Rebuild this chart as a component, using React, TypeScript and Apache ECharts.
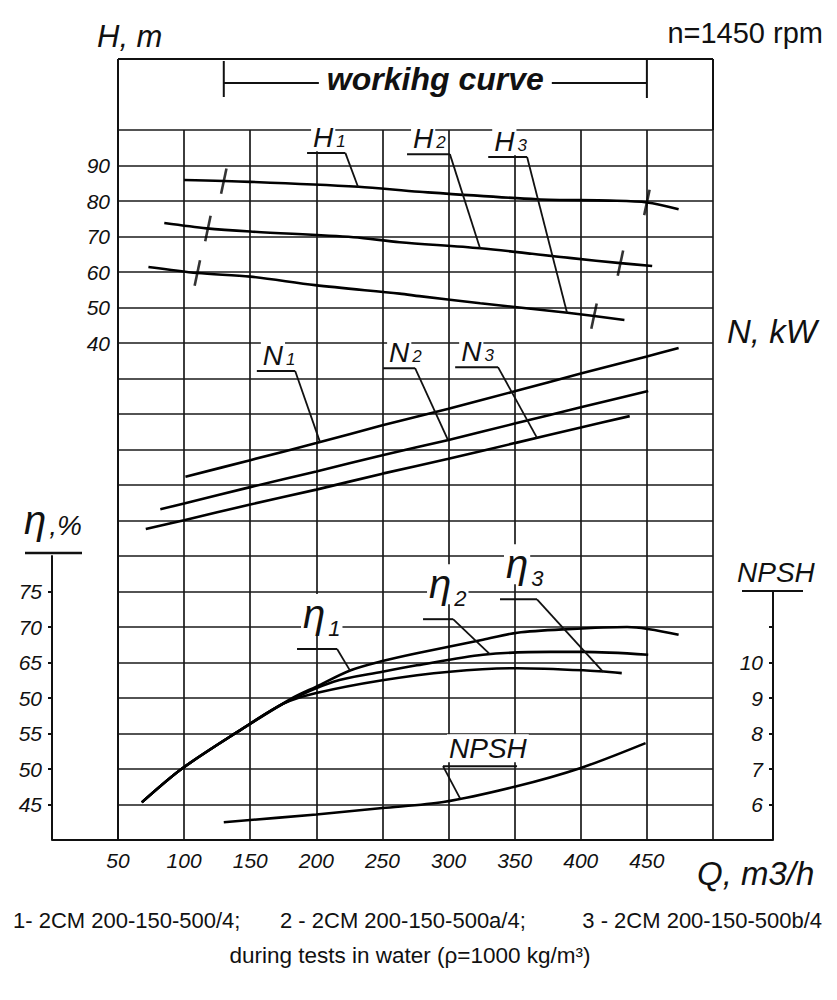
import React, { useEffect, useRef } from "react";
import * as echarts from "echarts";

const FONT = '"Liberation Sans", Arial, Helvetica, sans-serif';

// ---- axis ticks / labels ----
const Q_TICKS = [50, 100, 150, 200, 250, 300, 350, 400, 450];
const H_TICKS = [40, 50, 60, 70, 80, 90];
const ETA_TICKS = [45, 50, 55, 60, 65, 70, 75];
const ETA_TICK_LABELS = ["45", "50", "55", "50", "65", "70", "75"];
const NPSH_TICKS = [6, 7, 8, 9, 10, 11];
const NPSH_LABEL_TICKS = [6, 7, 8, 9, 10];

// ---- head curves H (m) vs Q (m3/h) ----
const H1 = [[100, 85.9], [150, 85.4], [232, 84.0], [278, 82.6], [367, 80.5], [422, 80.1], [450, 79.6], [474, 77.7]];
const H2 = [[85, 73.8], [117, 72.3], [150, 71.4], [228, 69.8], [263, 68.4], [324, 66.7], [393, 63.9], [430, 62.5], [454, 61.7]];
const H3 = [[73, 61.4], [110, 59.7], [150, 58.7], [199, 56.3], [263, 53.9], [278, 53.2], [324, 51.2], [390, 48.5], [433, 46.5]];

// ---- power curves N (kW, unlabelled scale) ----
const N1 = [[101, 102.3], [150, 107.0], [200, 111.8], [250, 116.8], [300, 121.5], [350, 126.4], [400, 131.4], [450, 136.2], [474, 138.6]];
const N2 = [[82, 93.2], [100, 94.8], [150, 99.4], [200, 103.8], [250, 108.4], [300, 112.7], [350, 117.3], [400, 121.9], [451, 126.5]];
const N3 = [[71, 87.6], [100, 90.1], [150, 94.5], [200, 98.7], [250, 103.2], [300, 107.4], [350, 111.8], [400, 116.2], [437, 119.4]];

// ---- efficiency curves (%) ----
const ETA1 = [[68, 45.3], [98, 50], [141, 55.3], [182, 60], [200, 61.6], [226, 63.9], [250, 65.2], [276, 66.3], [326, 68.2], [352, 69.2], [390, 69.7], [435, 70.0], [474, 68.9]];
const ETA2 = [[68, 45.3], [98, 50], [141, 55.3], [175, 59.2], [213, 62.3], [250, 63.7], [276, 64.6], [326, 66.1], [377, 66.5], [402, 66.5], [451, 66.1]];
const ETA3 = [[68, 45.3], [98, 50], [141, 55.3], [175, 59.2], [200, 60.7], [250, 62.5], [301, 63.7], [352, 64.2], [402, 63.9], [431, 63.5]];

// ---- NPSH (m) ----
const NPSH = [[130, 5.5], [200, 5.72], [250, 5.9], [296, 6.07], [350, 6.5], [400, 7.03], [449, 7.73]];

// ---- working range limits (Q) ----
const WORK_H1 = [130, 450];
const WORK_H2 = [118, 430];
const WORK_H3 = [110, 410];
const WORKING_RANGE = [130, 450];

// ---- curve labels: underline span (Q), level (curve axis units), touch point Q ----
const CURVE_LABELS = [
  { main: "H", sub: "1", curve: "H1", under: [193, 222], level: 93.5, touch: 231.5 },
  { main: "H", sub: "2", curve: "H2", under: [268.6, 301], level: 93.2, touch: 323.8 },
  { main: "H", sub: "3", curve: "H3", under: [330, 359.4], level: 92.4, touch: 389.6 },
  { main: "N", sub: "1", curve: "N1", under: [155, 184], level: 132.1, touch: 202.8 },
  { main: "N", sub: "2", curve: "N2", under: [250.5, 274.7], level: 132.9, touch: 299.6 },
  { main: "N", sub: "3", curve: "N3", under: [305, 337.4], level: 133.2, touch: 366.9 },
  { main: "η", sub: "1", curve: "ETA1", under: [185.4, 215.7], level: 66.9, touch: 225.5 },
  { main: "η", sub: "2", curve: "ETA2", under: [280.7, 303.4], level: 71.1, touch: 331.4 },
  { main: "η", sub: "3", curve: "ETA3", under: [338.9, 366.9], level: 73.9, touch: 416.9 },
  { main: "NPSH", sub: "", curve: "NPSH", under: [295.8, 351.8], level: 7.08, touch: 308.7, fromLeft: true },
];

const FOOT_1 = ["1- 2CM 200-150-500/4;", "2 - 2CM 200-150-500a/4;", "3 - 2CM 200-150-500b/4"];
const FOOT_2 = "during tests in water (ρ=1000 kg/m³)";

function interp(d: number[][], q: number): number {
  for (let i = 0; i < d.length - 1; i++) {
    const [a, va] = d[i];
    const [b, vb] = d[i + 1];
    if (q >= a && q <= b) return va + ((vb - va) * (q - a)) / (b - a);
  }
  return q < d[0][0] ? d[0][1] : d[d.length - 1][1];
}

let ctx: CanvasRenderingContext2D | null = null;
function measure(s: string, size: number, italic = true, bold = false): number {
  if (!ctx) ctx = document.createElement("canvas").getContext("2d");
  if (!ctx) return s.length * size * 0.55;
  ctx.font = `${italic ? "italic " : ""}${bold ? "bold " : ""}${size}px "Liberation Sans", Arial, sans-serif`;
  return ctx.measureText(s).width;
}

export default function App() {
  const ref = useRef<HTMLDivElement>(null);
  useEffect(() => {
    if (!ref.current) return;
    const chart = echarts.init(ref.current, null, { renderer: "svg" });
    const GL = 118;
    const GR = 124;
    const GB = 160;
    const RX = 837 - GR;
    const INK = "#111";
    const gridLine = { color: "#1a1a1a", width: 1.7 };
    const lbl = { fontFamily: FONT, fontStyle: "italic", color: INK, fontSize: 21 };

    const curves: Record<string, { data: number[][]; xi: number; yi: number }> = {
      H1: { data: H1, xi: 0, yi: 0 },
      H2: { data: H2, xi: 0, yi: 0 },
      H3: { data: H3, xi: 0, yi: 0 },
      N1: { data: N1, xi: 0, yi: 1 },
      N2: { data: N2, xi: 0, yi: 1 },
      N3: { data: N3, xi: 0, yi: 1 },
      ETA1: { data: ETA1, xi: 1, yi: 2 },
      ETA2: { data: ETA2, xi: 1, yi: 2 },
      ETA3: { data: ETA3, xi: 1, yi: 2 },
      NPSH: { data: NPSH, xi: 2, yi: 3 },
    };

    const series: any[] = Object.keys(curves).map((k) => ({
      name: k,
      type: "line",
      data: curves[k].data,
      xAxisIndex: curves[k].xi,
      yAxisIndex: curves[k].yi,
      smooth: 0.3,
      symbol: "none",
      lineStyle: { color: "#000", width: 2.6 },
      z: 5,
      silent: true,
    }));
    const marks: number[][] = [];
    ([[H1, WORK_H1], [H2, WORK_H2], [H3, WORK_H3]] as any[]).forEach(([d, qs]) =>
      qs.forEach((q: number) => marks.push([q, interp(d, q)]))
    );
    series.push({
      type: "scatter",
      data: marks,
      xAxisIndex: 0,
      yAxisIndex: 0,
      symbol: "rect",
      symbolSize: [2.6, 26],
      symbolRotate: -12,
      itemStyle: { color: "#000" },
      z: 6,
      silent: true,
    });

    chart.setOption({
      animation: false,
      backgroundColor: "#fff",
      grid: [
        { left: GL, right: GR, bottom: GB, top: 130 },
        { left: GL, right: GR, bottom: GB, top: 556 },
        { left: GL, right: GR, bottom: GB, top: 591.5 },
      ],
      xAxis: [
        {
          gridIndex: 0, type: "value", min: 50, max: 500, interval: 50,
          axisLine: { show: true, onZero: false, lineStyle: { color: INK, width: 2 } },
          axisTick: { show: false },
          axisLabel: { ...lbl, customValues: Q_TICKS, margin: 10 },
          splitLine: { show: true, lineStyle: gridLine },
        },
        { gridIndex: 1, type: "value", min: 50, max: 500, show: false },
        { gridIndex: 2, type: "value", min: 50, max: 500, show: false },
      ],
      yAxis: [
        {
          gridIndex: 0, type: "value", min: -100, max: 100, interval: 10, position: "left",
          axisLine: { show: true, onZero: false, lineStyle: { color: INK, width: 2 } },
          axisTick: { show: false },
          axisLabel: { ...lbl, customValues: H_TICKS, margin: 8 },
          splitLine: { show: true, lineStyle: gridLine },
        },
        { gridIndex: 0, type: "value", min: 0, max: 200, show: false },
        {
          gridIndex: 1, type: "value", min: 40, max: 80, interval: 5, position: "left", offset: 66,
          axisLine: { show: true, onZero: false, lineStyle: { color: INK, width: 2 } },
          axisTick: { show: true, customValues: ETA_TICKS, length: 4, lineStyle: { color: INK, width: 2 } },
          axisLabel: {
            ...lbl, customValues: ETA_TICKS, margin: 10,
            formatter: (v: number) => ETA_TICK_LABELS[ETA_TICKS.indexOf(v)] ?? "",
          },
          splitLine: { show: false },
        },
        {
          gridIndex: 2, type: "value", min: 5, max: 12, interval: 1, position: "right", offset: 60,
          axisLine: { show: true, onZero: false, lineStyle: { color: INK, width: 2 } },
          axisTick: { show: true, customValues: NPSH_TICKS, length: 4, inside: true, lineStyle: { color: INK, width: 2 } },
          axisLabel: { ...lbl, customValues: NPSH_LABEL_TICKS, inside: true, margin: 10 },
          splitLine: { show: false },
        },
      ],
      series,
    });

    const P = (xi: number, yi: number, q: number, v: number) =>
      chart.convertToPixel({ xAxisIndex: xi, yAxisIndex: yi } as any, [q, v]) as unknown as number[];

    const g: any[] = [];
    const line = (x1: number, y1: number, x2: number, y2: number, w = 2) => ({
      type: "line", silent: true, z: 10,
      shape: { x1, y1, x2, y2 },
      style: { stroke: INK, lineWidth: w },
    });
    const text = (s: string, x: number, baseline: number, size: number, o: any = {}) => ({
      type: "text", silent: true, z: 9,
      x, y: baseline - 0.35 * size,
      style: {
        text: s, fontSize: size, fontFamily: FONT,
        fontStyle: o.italic === false ? "normal" : "italic",
        fontWeight: o.bold ? "bold" : "normal",
        fill: INK, align: o.align || "left", verticalAlign: "middle",
        backgroundColor: o.bg ? "#fff" : undefined,
        padding: o.bg ? [0, 2] : undefined,
      },
    });

    // top band
    g.push(line(GL, 59, RX, 59), line(GL, 59, GL, 130), line(RX, 59, RX, 130));
    const xL = P(0, 0, WORKING_RANGE[0], 0)[0];
    const xR = P(0, 0, WORKING_RANGE[1], 0)[0];
    const mid = (xL + xR) / 2;
    const tw = measure("workihg curve", 32, true, true);
    g.push(
      line(xL, 61, xL, 97), line(xR, 59, xR, 98),
      line(xL, 83, mid - tw / 2 - 8, 83), line(mid + tw / 2 + 8, 83, xR, 83),
      text("workihg curve", mid, 90, 32, { bold: true, align: "center" })
    );

    // bottom axis extensions
    g.push(line(52, 840, GL, 840), line(RX, 840, 773, 840));

    // titles
    const etaW = measure("η", 40);
    g.push(
      text("H, m", 97, 47, 31),
      text("n=1450 rpm", 823, 43, 29, { italic: false, align: "right" }),
      text("N, kW", 727, 343, 33),
      text("Q, m3/h", 697, 885, 33),
      text("η", 24, 534, 40),
      text(",%", 24 + etaW + 3, 535, 28),
      line(25, 553, 82, 553, 2.5),
      text("NPSH", 737, 582, 28),
      line(742, 591, 803, 591, 2)
    );

    // curve labels with leaders
    CURVE_LABELS.forEach((L: any) => {
      const c = curves[L.curve];
      const [u0, uy] = P(c.xi, c.yi, L.under[0], L.level);
      const [u1] = P(c.xi, c.yi, L.under[1], L.level);
      const [tx, ty] = P(c.xi, c.yi, L.touch, interp(c.data, L.touch));
      const isEta = L.main === "η";
      const size = isEta ? 40 : 28;
      const subSize = isEta ? 22 : 17;
      const base = isEta ? uy - 21 : L.fromLeft ? uy - 8 : uy - 6;
      const subBase = isEta ? uy - 13 : base;
      const x0 = u0 + 4;
      g.push(text(L.main, x0, base, size, { bg: true }));
      if (L.sub) g.push(text(L.sub, x0 + measure(L.main, size) + 3, subBase, subSize, { bg: true }));
      g.push(line(u0, uy, u1, uy, 2));
      if (L.fromLeft) g.push(line(u0, uy, tx, ty, 1.8));
      else g.push(line(u1, uy, tx, ty, 1.8));
    });

    // footer
    g.push(
      text(FOOT_1[0], 13, 928, 22, { italic: false }),
      text(FOOT_1[1], 280, 928, 22, { italic: false }),
      text(FOOT_1[2], 822, 928, 22, { italic: false, align: "right" }),
      text(FOOT_2, 410, 963, 22.5, { italic: false, align: "center" })
    );

    chart.setOption({ graphic: g });
    return () => chart.dispose();
  }, []);
  return (
    <div
      ref={ref}
      style={{ position: "absolute", left: 0, top: 0, width: 837, height: 1000, background: "#fff" }}
    />
  );
}
